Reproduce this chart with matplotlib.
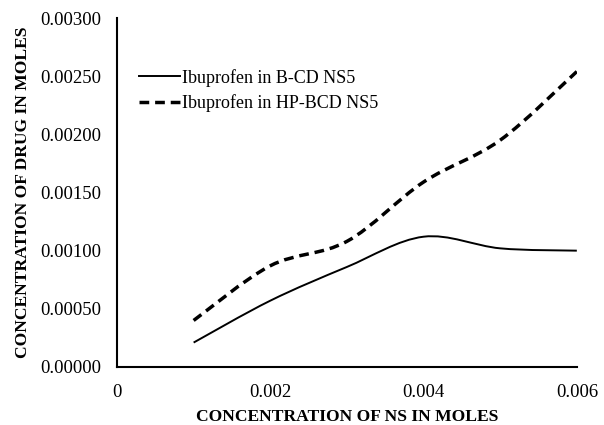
import matplotlib
matplotlib.use("Agg")
import matplotlib.pyplot as plt
from matplotlib.path import Path
from matplotlib.patches import PathPatch
from matplotlib.lines import Line2D
import numpy as np

x_vals = [0.001, 0.002, 0.003, 0.004, 0.005, 0.006]
bcd = [0.00021, 0.00057, 0.00086, 0.00112, 0.00102, 0.00100]
hpbcd = [0.00040, 0.00087, 0.00108, 0.00159, 0.00195, 0.00254]
labels = ["Ibuprofen in B-CD NS5", "Ibuprofen in HP-BCD NS5"]
xticks = [0, 0.002, 0.004, 0.006]
xtick_labels = ["0", "0.002", "0.004", "0.006"]
yticks = [0, 0.0005, 0.001, 0.0015, 0.002, 0.0025, 0.003]

plt.rcParams['font.family'] = ['Liberation Serif', 'DejaVu Serif']

fig = plt.figure(figsize=(6.04, 4.25), dpi=100)
ax = fig.add_axes([0.1937, 0.1365, 0.7613, 0.8211])


def smooth_path(xs, ys):
    xs = np.asarray(xs, float)
    ys = np.asarray(ys, float)
    verts = [(xs[0], ys[0])]
    codes = [Path.MOVETO]
    n = len(xs)
    for i in range(n - 1):
        p0 = (xs[max(i - 1, 0)], ys[max(i - 1, 0)])
        p1 = (xs[i], ys[i])
        p2 = (xs[i + 1], ys[i + 1])
        p3 = (xs[min(i + 2, n - 1)], ys[min(i + 2, n - 1)])
        c1 = (p1[0] + (p2[0] - p0[0]) / 6, p1[1] + (p2[1] - p0[1]) / 6)
        c2 = (p2[0] - (p3[0] - p1[0]) / 6, p2[1] - (p3[1] - p1[1]) / 6)
        verts += [c1, c2, p2]
        codes += [Path.CURVE4] * 3
    return Path(verts, codes)


dash = (0, (2.8, 1.7))
ax.add_patch(PathPatch(smooth_path(x_vals, bcd), fill=False, edgecolor='black',
                       linewidth=1.4, linestyle='-'))
ax.add_patch(PathPatch(smooth_path(x_vals, hpbcd), fill=False, edgecolor='black',
                       linewidth=2.5, linestyle=dash))

ax.set_xlim(0, 0.006)
ax.set_ylim(0, 0.003)
ax.set_xticks(xticks)
ax.set_xticklabels(xtick_labels)
ax.set_yticks(yticks)
ax.set_yticklabels([f"{v:.5f}" for v in yticks])
ax.tick_params(axis='y', length=0, labelsize=13.5, pad=11)
ax.tick_params(axis='x', length=0, labelsize=13.5, pad=12)
for s in ['top', 'right']:
    ax.spines[s].set_visible(False)
for s in ['left', 'bottom']:
    ax.spines[s].set_linewidth(1.5)
    ax.spines[s].set_color('black')

ax.set_xlabel("CONCENTRATION OF NS IN MOLES", fontweight='bold', fontsize=12.6, labelpad=6)
ax.set_ylabel("CONCENTRATION OF DRUG IN MOLES", fontweight='bold', fontsize=12.6, labelpad=7)

handles = [Line2D([], [], color='black', linewidth=1.4, linestyle='-'),
           Line2D([], [], color='black', linewidth=2.5, linestyle=dash)]
ax.legend(handles, labels, loc='upper left', bbox_to_anchor=(0.032, 0.875), frameon=False,
          fontsize=13, handlelength=2.3, handletextpad=0.1, labelspacing=0.42,
          borderaxespad=0)

fig.savefig("out.png", dpi=100)
